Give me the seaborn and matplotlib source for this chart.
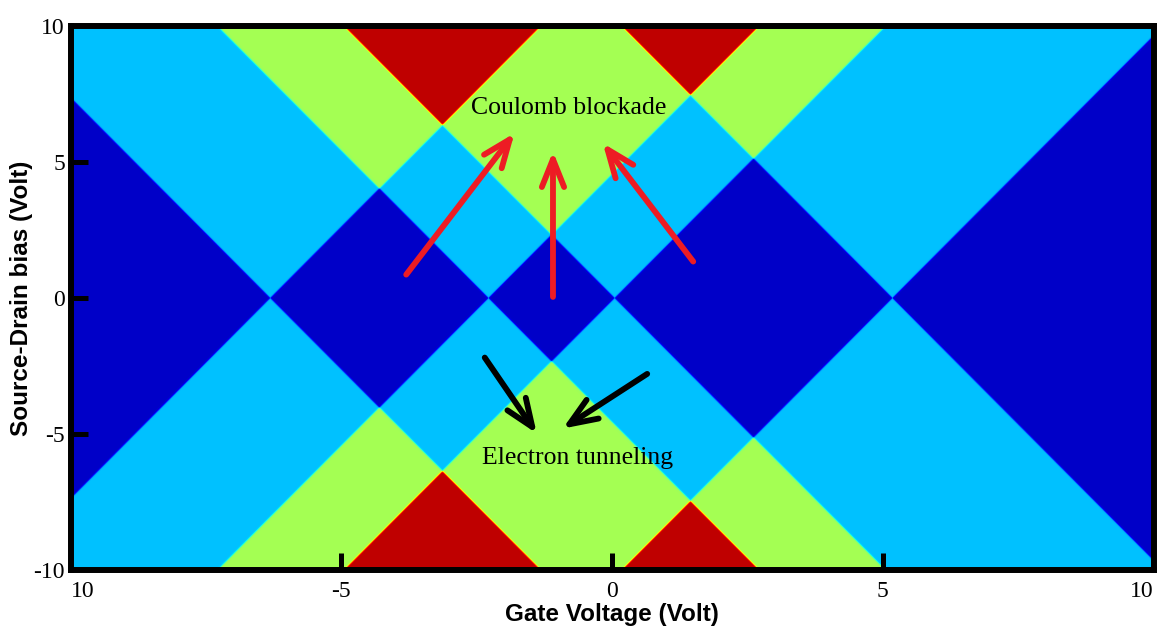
import numpy as np
import pandas as pd
import matplotlib
matplotlib.use("Agg")
import matplotlib.pyplot as plt
import seaborn as sns

# gate voltages where neighbouring charge states are degenerate (Volt)
degeneracy_points = [-6.32, -2.29, 0.04, 5.17]
# bias / gate slope of the diamond edges
edge_slope = 2.0

gate_limits = [-10, 10]
bias_limits = [-10, 10]
n_gate = 1083
n_bias = 544

# position in the jet colormap of 0, 1, 2, 3 open transport channels
level_positions = [0.065, 0.315, 0.547, 0.945]

x_ticks = [-10, -5, 0, 5, 10]
x_tick_labels = ["10", "-5", "0", "5", "10"]
y_ticks = [10, 5, 0, -5, -10]
y_tick_labels = ["10", "5", "0", "-5", "-10"]

# annotation arrows, (tail, head) in (gate, bias) volts
red_arrows = [((-3.80, 0.86), (-1.80, 6.06)),
              ((-1.09, 0.04), (-1.09, 5.39)),
              ((1.50, 1.34), (-0.17, 5.69))]
black_arrows = [((-2.35, -2.19), (-1.39, -4.98)),
                ((0.65, -2.79), (-0.91, -4.80))]
labels = [("Coulomb blockade", (-0.80, 6.99)),
          ("Electron tunneling", (-0.63, -5.87))]

# build the stability map
gate = np.linspace(gate_limits[0], gate_limits[1], n_gate, endpoint=False) + 10.0 / n_gate
bias = np.linspace(bias_limits[1], bias_limits[0], n_bias, endpoint=False) - 10.0 / n_bias
G, B = np.meshgrid(gate, bias)
level = np.zeros_like(G)
for g in degeneracy_points:
    level += 0.5 * (1 + np.tanh((np.abs(B) / edge_slope - np.abs(G - g)) / 0.02))
level = np.clip(level, 0, 3)
value = np.interp(level, [0, 1, 2, 3], level_positions)
df = pd.DataFrame(value, index=np.round(bias, 4), columns=np.round(gate, 4))


def to_col(v):
    return (v - gate_limits[0]) / (gate_limits[1] - gate_limits[0]) * n_gate


def to_row(v):
    return (bias_limits[1] - v) / (bias_limits[1] - bias_limits[0]) * n_bias


sns.set_style("ticks")
plt.rcParams["font.family"] = ["Liberation Serif", "DejaVu Serif"]

fig = plt.figure(figsize=(11.61, 6.30), dpi=100)
ax = fig.add_axes([70.5 / 1161, 60 / 630, n_gate / 1161, n_bias / 630])
sns.heatmap(df, cmap="jet", vmin=0, vmax=1, cbar=False,
            xticklabels=False, yticklabels=False, ax=ax)
ax.set_axisbelow(False)

for side in ["left", "right", "top", "bottom"]:
    ax.spines[side].set_visible(True)
    ax.spines[side].set_linewidth(4.3)
    ax.spines[side].set_color("black")
    ax.spines[side].set_zorder(5)

ax.set_xticks([to_col(v) for v in x_ticks])
ax.set_xticklabels(x_tick_labels)
ax.set_yticks([to_row(v) for v in y_ticks])
ax.set_yticklabels(y_tick_labels, rotation=0)
ax.tick_params(axis="both", direction="in", length=12, width=3.6,
               color="black", labelsize=17, labelcolor="black")
ax.tick_params(axis="x", pad=8)
ax.tick_params(axis="y", pad=4)
xt = ax.get_xticklabels()
xt[0].set_ha("left")
xt[-1].set_ha("right")
# the ticks at the frame edges are hidden by the frame
for t in [ax.xaxis.get_major_ticks()[0], ax.xaxis.get_major_ticks()[-1],
          ax.yaxis.get_major_ticks()[0], ax.yaxis.get_major_ticks()[-1]]:
    t.tick1line.set_visible(False)

ax.set_xlabel("Gate Voltage (Volt)", fontsize=17.5, fontweight="bold",
              family="Liberation Sans", color="black")
ax.set_ylabel("Source-Drain bias (Volt)", fontsize=17.5, fontweight="bold",
              family="Liberation Sans", color="black")
ax.xaxis.set_label_coords(0.5, -0.06)
ax.yaxis.set_label_coords(-0.035, 0.5)

for (tail, head) in red_arrows:
    ax.annotate("", xy=(to_col(head[0]), to_row(head[1])),
                xytext=(to_col(tail[0]), to_row(tail[1])),
                arrowprops=dict(arrowstyle="->, head_length=2.0, head_width=0.8",
                                mutation_scale=10, lw=4.2, color="#ED1C24",
                                shrinkA=0, shrinkB=0, capstyle="round",
                                joinstyle="round"))
for (tail, head) in black_arrows:
    ax.annotate("", xy=(to_col(head[0]), to_row(head[1])),
                xytext=(to_col(tail[0]), to_row(tail[1])),
                arrowprops=dict(arrowstyle="->, head_length=2.0, head_width=0.8",
                                mutation_scale=10, lw=4.2, color="black",
                                shrinkA=0, shrinkB=0, capstyle="round",
                                joinstyle="round"))
for text, (gx, by) in labels:
    ax.text(to_col(gx), to_row(by), text, fontsize=18.5, ha="center",
            va="center", color="black")

fig.savefig("out.png", dpi=100)
